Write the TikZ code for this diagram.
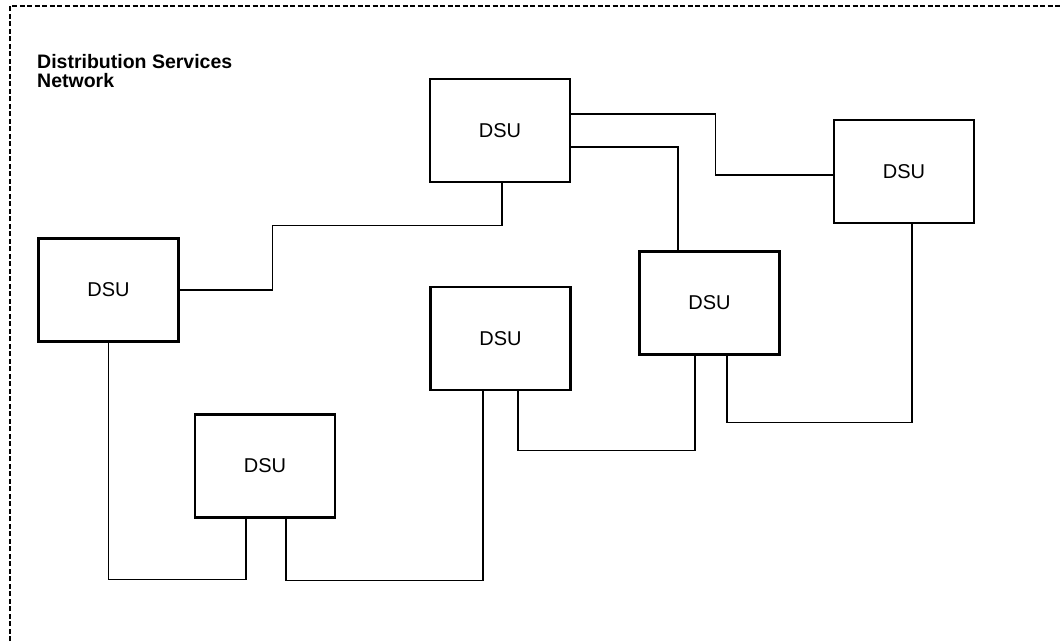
\documentclass[tikz,border=0pt]{standalone}
\usepackage{fontspec}
\setmainfont{Liberation Sans}
\usepackage{tikz}
\usetikzlibrary{positioning}

\begin{document}
\begin{tikzpicture}[x=1pt,y=-1pt, dsu/.style={draw,line width=2.6pt,minimum width=140pt,minimum height=103pt,inner sep=0pt,font=\fontsize{20}{20}\selectfont}, wire/.style={line width=1.2pt}]
\useasboundingbox (0,0) rectangle (1061,641);
\draw[dashed,dash pattern=on 5pt off 2.5pt,line width=1.2pt] (10,641)--(10,6)--(1061,6);
\node[anchor=north west,inner sep=0pt,align=left,font=\bfseries\fontsize{19.5}{19}\selectfont] (title) at (37,54) {Distribution Services\\Network};
\node[dsu] (top) at (500,130.5) {DSU};
\node[dsu] (right) at (904,171.5) {DSU};
\node[dsu] (left) at (108.5,290) {DSU};
\node[dsu] (rmid) at (709.5,303) {DSU};
\node[dsu] (mid) at (500.5,338.5) {DSU};
\node[dsu] (bot) at (265,466) {DSU};
\draw[wire] (left.east) -- ++(93,0) |- ([xshift=2pt,yshift=-42pt]top.south) -- ([xshift=2pt]top.south);
\draw[wire] ([yshift=16.5pt]top.east) -| ([xshift=-117pt,yshift=-3.5pt]right.west) -- ([yshift=-3.5pt]right.west);
\draw[wire] ([yshift=-16.5pt]top.east) -| ([xshift=-31.5pt]rmid.north);
\draw[wire] ([xshift=8pt]right.south) -- ++(0,198) -| ([xshift=17.5pt]rmid.south);
\draw[wire] ([xshift=-14.5pt]rmid.south) -- ++(0,95) -| ([xshift=17.5pt]mid.south);
\draw[wire] ([xshift=-17.5pt]mid.south) -- ++(0,189) -| ([xshift=21pt]bot.south);
\draw[wire] ([xshift=-19pt]bot.south) -- ++(0,61) -| (left.south);
\end{tikzpicture}
\end{document}
